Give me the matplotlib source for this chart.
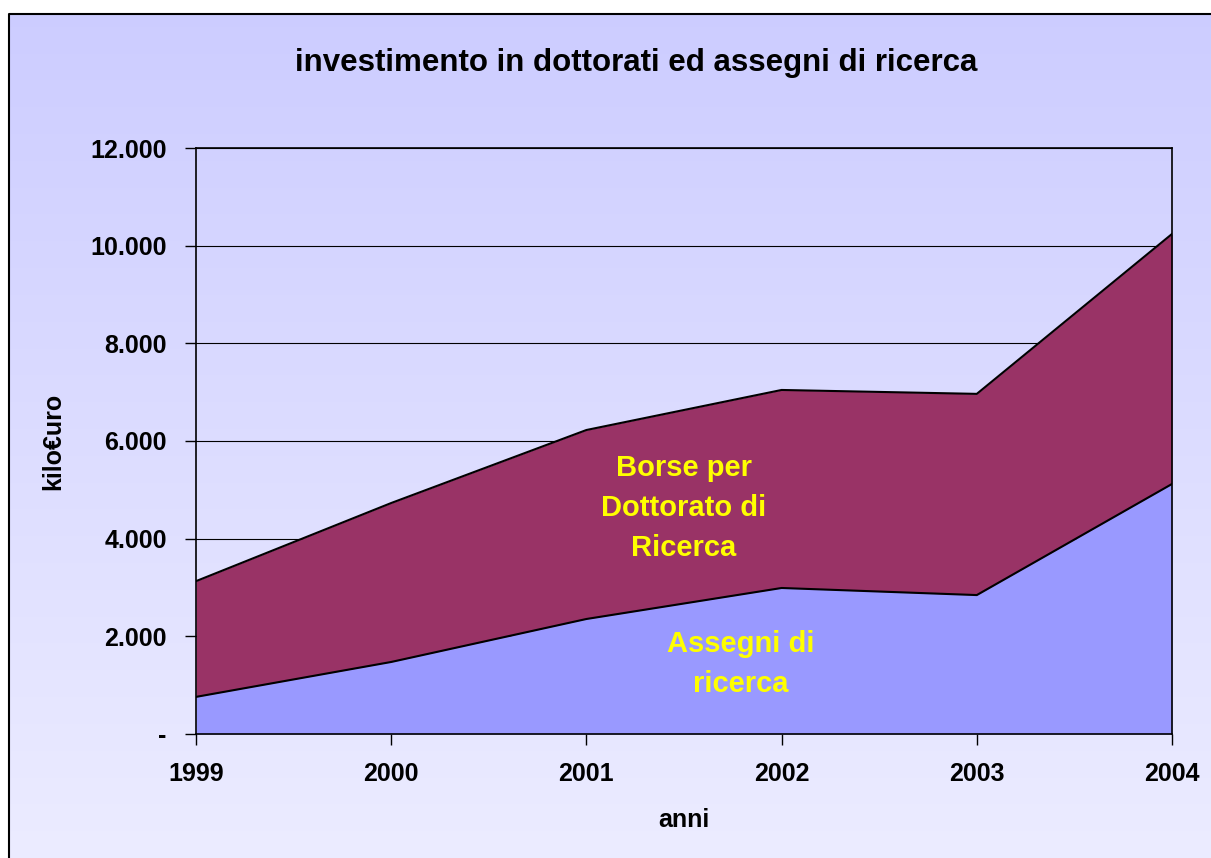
import numpy as np
import matplotlib.pyplot as plt
from matplotlib.patches import Rectangle

# dati (kilo euro)
anni = [1999, 2000, 2001, 2002, 2003, 2004]
assegni = [760, 1475, 2355, 2990, 2845, 5120]
borse = [2370, 3255, 3870, 4055, 4120, 5120]
yticks = [0, 2000, 4000, 6000, 8000, 10000, 12000]
ytick_labels = ['-', '2.000', '4.000', '6.000', '8.000', '10.000', '12.000']

plt.rcParams['font.family'] = ['Liberation Sans', 'DejaVu Sans']
plt.rcParams['font.weight'] = 'bold'

fig = plt.figure(figsize=(12.11, 8.58), dpi=100)

# sfondo sfumato
bg = fig.add_axes([0, 0, 1, 1])
grad = np.linspace(0, 1, 256).reshape(-1, 1)
top_c = np.array([0.80, 0.80, 1.0])
bot_c = np.array([0.925, 0.925, 1.0])
img = top_c + (bot_c - top_c) * grad[:, :, None]
bg.imshow(img, aspect='auto', extent=[0, 1, 0, 1], origin='upper', zorder=0)
bg.set_xlim(0, 1)
bg.set_ylim(0, 1)
bg.axis('off')
# bordo
x0 = 9 / 1211
y1 = 1 - 14 / 858
bg.add_patch(Rectangle((0, y1), 1, 1 - y1, color='white', zorder=2, lw=0))
bg.add_patch(Rectangle((0, 0), x0, 1, color='white', zorder=2, lw=0))
bg.plot([x0, x0, 1], [0, y1, y1], color='black', lw=1.5, zorder=3)

ax = fig.add_axes([196 / 1211, 1 - 734 / 858, (1172 - 196) / 1211, (734 - 148) / 858])
ax.patch.set_alpha(0)

x = np.arange(len(anni))
tot = np.array(assegni) + np.array(borse)
ax.fill_between(x, 0, assegni, color='#9999ff', lw=0, zorder=2)
ax.fill_between(x, assegni, tot, color='#993366', lw=0, zorder=2)
ax.plot(x, assegni, color='black', lw=1.5, zorder=3)
ax.plot(x, tot, color='black', lw=1.5, zorder=3)

ax.set_xlim(0, len(anni) - 1)
ax.set_ylim(0, 12000)
ax.set_yticks(yticks)
ax.set_yticklabels(ytick_labels)
ax.set_xticks(x)
ax.set_xticklabels([str(a) for a in anni])
ax.grid(axis='y', color='black', lw=0.8, zorder=1)
ax.set_axisbelow(True)
for s in ax.spines.values():
    s.set_color('black')
    s.set_linewidth(1.2)
ax.tick_params(axis='both', length=8, width=1, labelsize=18, colors='black')
ax.tick_params(axis='y', pad=13)
ax.tick_params(axis='x', pad=12)

ax.set_ylabel('kilo€uro', fontsize=18, fontweight='bold', labelpad=18)
ax.set_xlabel('anni', fontsize=18, fontweight='bold', labelpad=16)

fig.text(636 / 1211, 1 - 63 / 858, 'investimento in dottorati ed assegni di ricerca',
         ha='center', va='center', fontsize=22.5, fontweight='bold')

ax.text(2.5, 4630, 'Borse per\nDottorato di\nRicerca', ha='center', va='center',
        color='yellow', fontsize=21, fontweight='bold', linespacing=1.55)
ax.text(2.79, 1430, 'Assegni di\nricerca', ha='center', va='center',
        color='yellow', fontsize=21, fontweight='bold', linespacing=1.55)

fig.savefig('out.png', dpi=100)
